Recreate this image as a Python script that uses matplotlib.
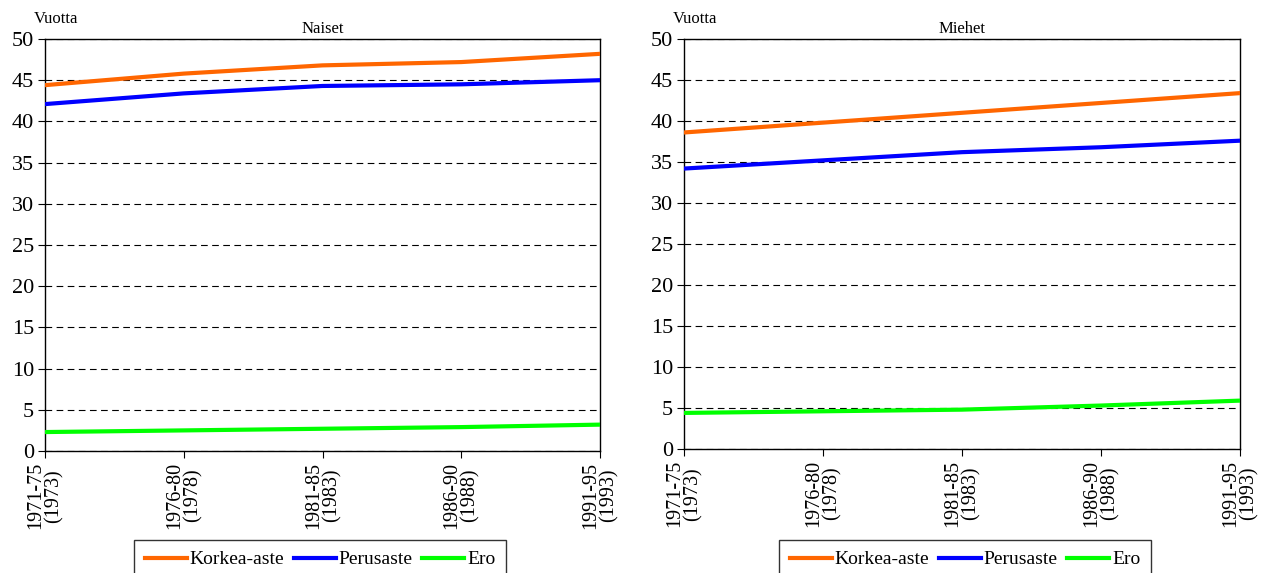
import numpy as np
import matplotlib.pyplot as plt

plt.rcParams['font.family'] = ['Liberation Serif', 'DejaVu Serif']

periods = ['1971-75\n(1973)', '1976-80\n(1978)', '1981-85\n(1983)', '1986-90\n(1988)', '1991-95\n(1993)']

# Naiset
women_korkea = [44.4, 45.8, 46.8, 47.2, 48.2]
women_perus = [42.1, 43.4, 44.3, 44.5, 45.0]
women_ero = [2.3, 2.5, 2.7, 2.9, 3.2]

# Miehet
men_korkea = [38.6, 39.8, 41.0, 42.2, 43.4]
men_perus = [34.2, 35.2, 36.2, 36.8, 37.6]
men_ero = [4.4, 4.6, 4.8, 5.3, 5.9]

series_names = ['Korkea-aste', 'Perusaste', 'Ero']
colors = ['#FF6600', '#0000FF', '#00FF00']

fig = plt.figure(figsize=(12.61, 5.73), dpi=100)
ax1 = fig.add_axes([45/1261, 1 - 451/573, 555/1261, 412/573])
ax2 = fig.add_axes([684/1261, 1 - 449/573, 556/1261, 410/573])

x = np.arange(len(periods))

for ax, title, data, leg_x in [
        (ax1, 'Naiset', [women_korkea, women_perus, women_ero], 320/1261),
        (ax2, 'Miehet', [men_korkea, men_perus, men_ero], 965/1261)]:
    for vals, name, c in zip(data, series_names, colors):
        ax.plot(x, vals, color=c, lw=3, label=name, zorder=3)
    ax.set_xlim(0, len(periods) - 1)
    ax.set_ylim(0, 50)
    ax.set_yticks(range(0, 51, 5))
    ax.set_xticks(x)
    ax.set_xticklabels(periods, rotation=90, fontsize=14.5, linespacing=0.95)
    ax.tick_params(axis='y', labelsize=16, direction='out', length=5, pad=3)
    ax.tick_params(axis='x', direction='out', length=5, pad=3)
    ax.yaxis.grid(True, linestyle=(0, (6, 4)), color='black', lw=0.8)
    ax.set_axisbelow(True)
    for s in ax.spines.values():
        s.set_linewidth(1.0)
    ax.set_title(title, fontsize=12, pad=4)
    ax.text(-0.02, 1.03, 'Vuotta', transform=ax.transAxes, fontsize=12,
            ha='left', va='bottom')
    fig.legend(*ax.get_legend_handles_labels(), loc='upper center',
               bbox_to_anchor=(leg_x, 33/573), ncol=3, fontsize=14,
               frameon=True, fancybox=False, edgecolor='black',
               handlelength=2.15, handletextpad=0.15, columnspacing=0.5,
               borderpad=0.55, borderaxespad=0)

fig.savefig('out.png', dpi=100)
